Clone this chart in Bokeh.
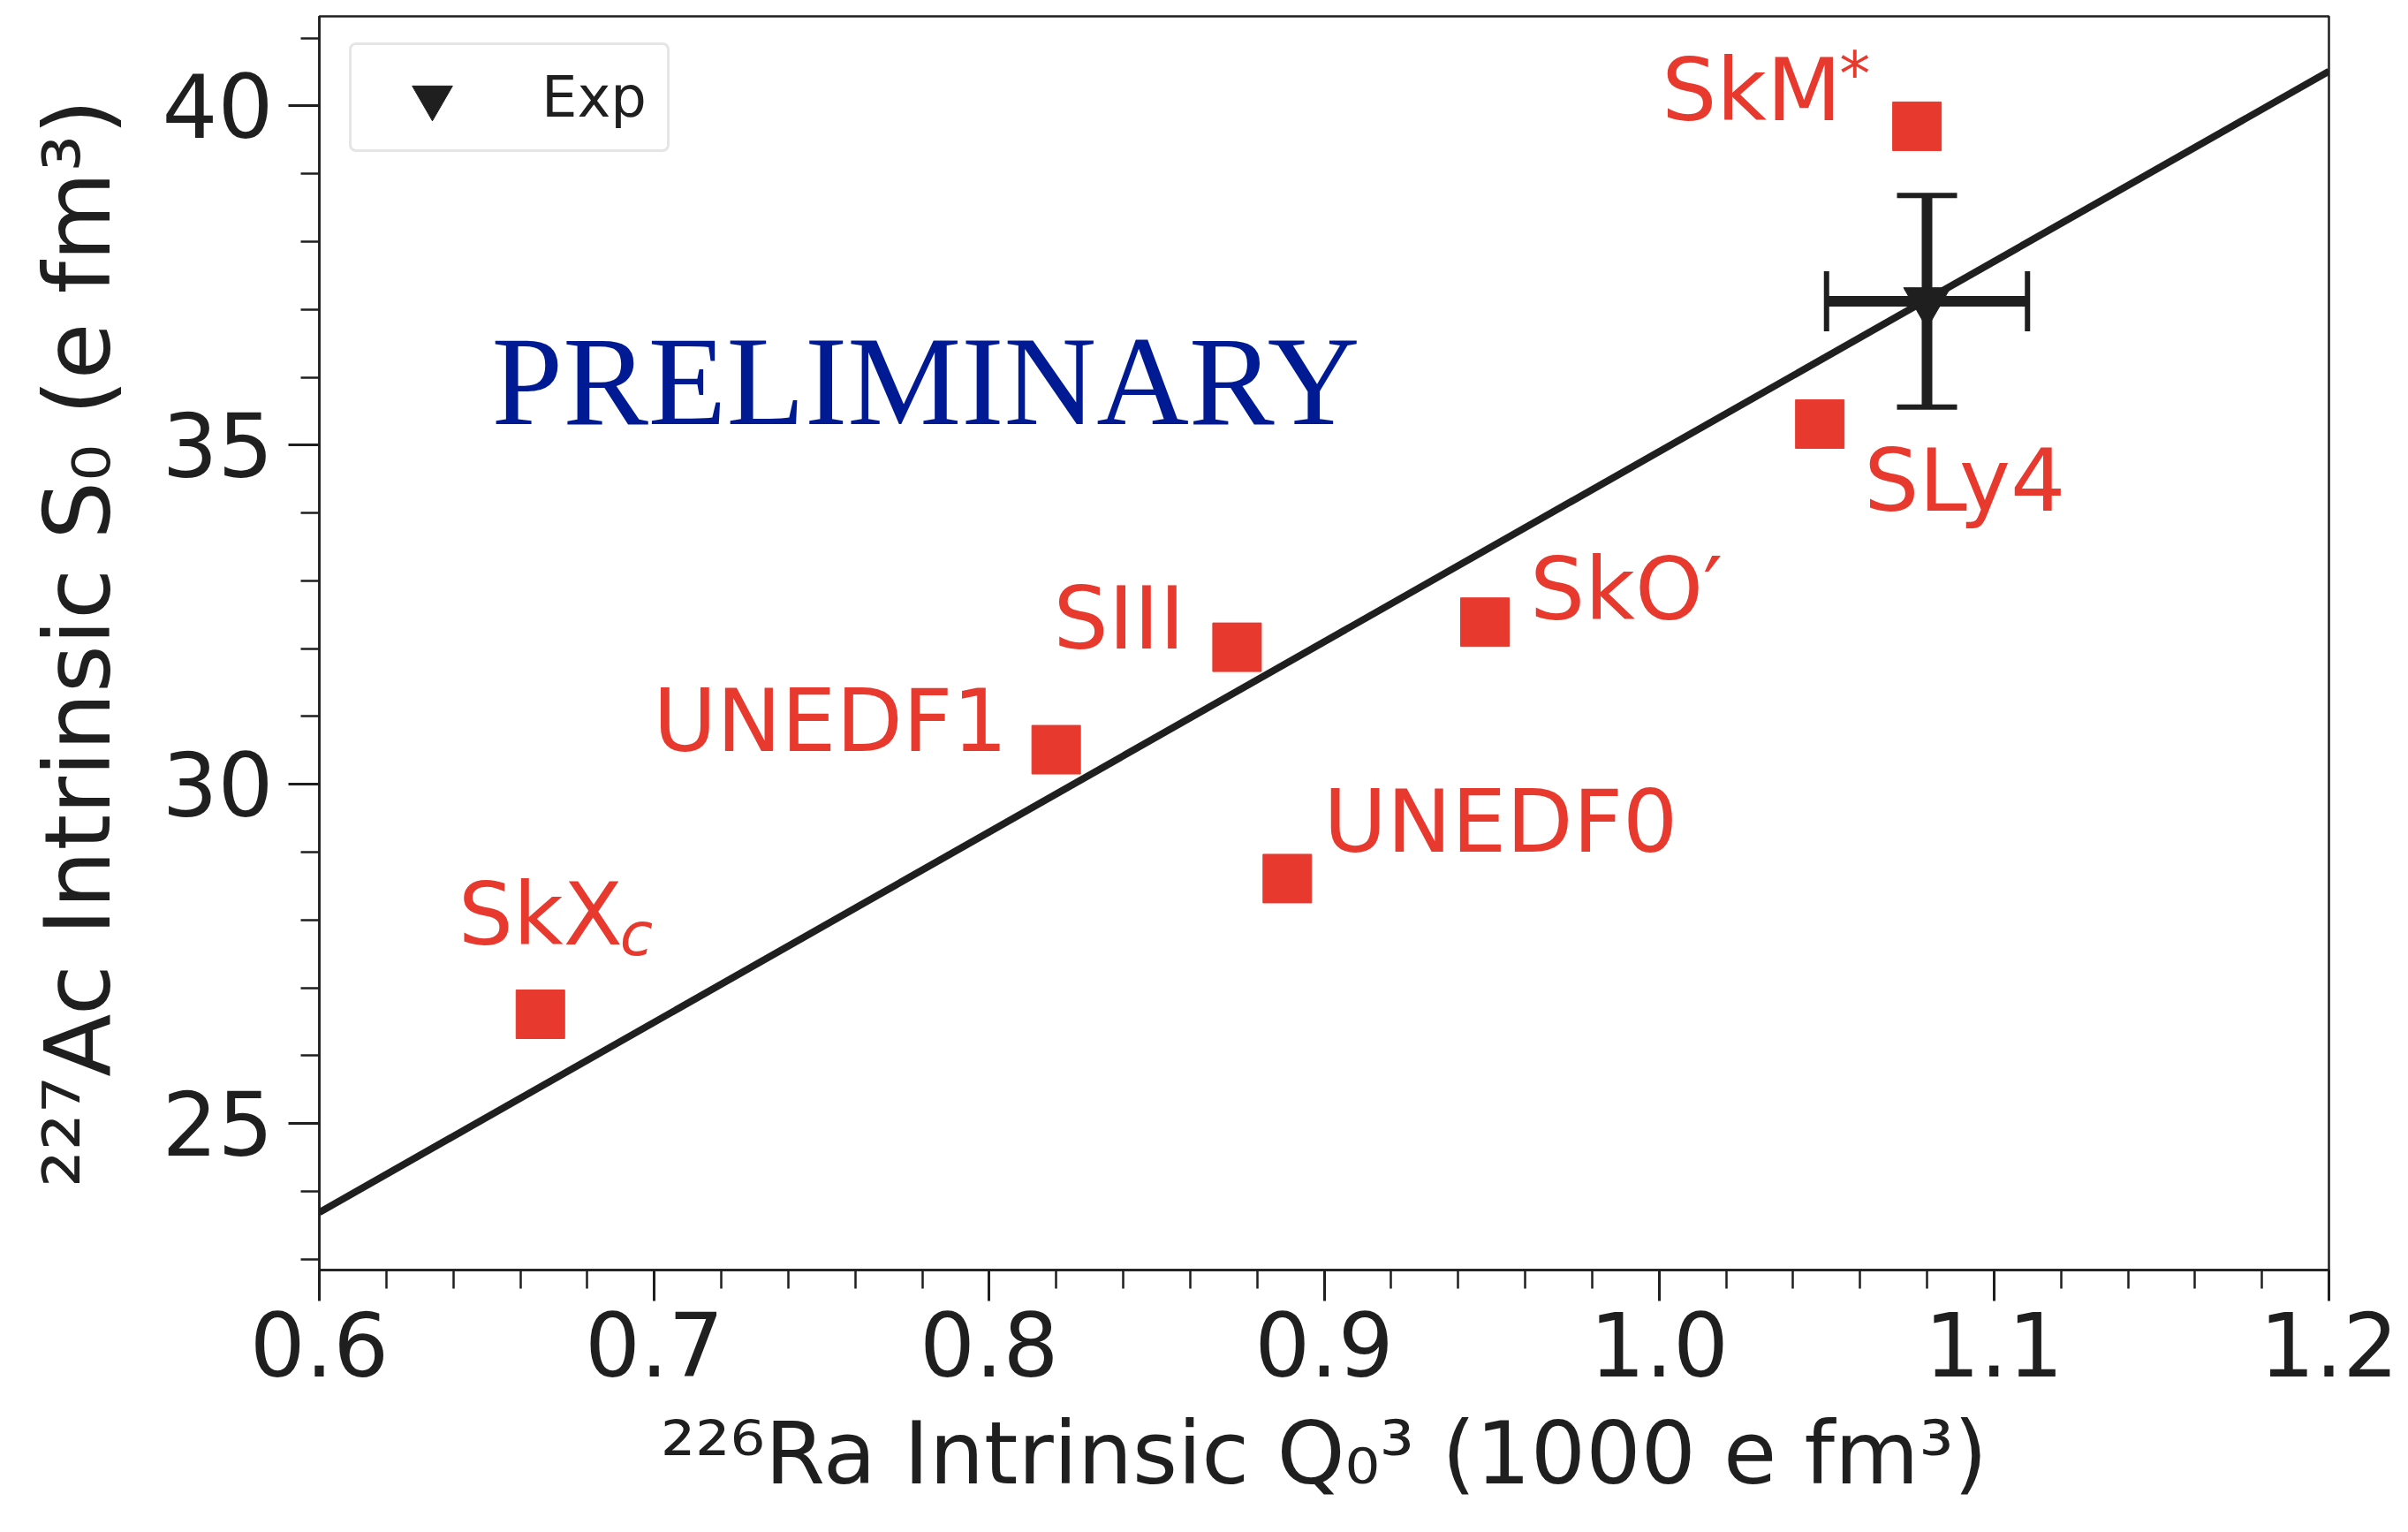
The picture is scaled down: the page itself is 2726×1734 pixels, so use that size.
from bokeh.plotting import figure
from bokeh.models import (Range1d, FixedTicker, NumeralTickFormatter, Whisker, Title,
                          ColumnDataSource, Legend, LegendItem, TeeHead)
from bokeh.core.properties import value
from bokeh.embed import file_html
from bokeh.resources import INLINE

# ---------------- data ----------------
models = ["SkXc", "UNEDF1", "SIII", "UNEDF0", "SkO′", "SLy4", "SkM*"]
model_labels = ["SkX", "UNEDF1", "SIII", "UNEDF0", "SkO′", "SLy4", "SkM"]
q3_ra226 = [0.666, 0.820, 0.874, 0.889, 0.948, 1.048, 1.077]
s0_ac227 = [26.61, 30.51, 32.02, 28.61, 32.39, 35.31, 39.70]

exp_q3 = [1.080]
exp_q3_err = [0.030]
exp_s0 = [37.12]
exp_s0_err = [1.56]

fit_q3 = [0.6, 1.2]
fit_s0 = [23.69, 40.51]

x_ticks = [0.6, 0.7, 0.8, 0.9, 1.0, 1.1, 1.2]
y_ticks = [25, 30, 35, 40]
x_minor = [round(0.6 + 0.02 * i, 2) for i in range(31)]
y_minor = list(range(23, 42))

X_LABEL = "²²⁶Ra Intrinsic Q₀³ (1000 e fm³)"
Y_LABEL = "²²⁷Ac Intrinsic S₀ (e fm³)"

# ---------------- styling / placement ----------------
RED = "#E8392F"
INK = "#1f1f1f"
FONT = "DejaVu Sans"
LIFT = -35  # baseline correction for 98px text (screen px)
# label offsets in screen px: (dx, dy, align)
placement = {
    "SkXc": (-93, -78, "left"),
    "UNEDF1": (-55, 2, "right"),
    "SIII": (-59, 2, "right"),
    "UNEDF0": (41, -29, "left"),
    "SkO′": (51, -2, "left"),
    "SLy4": (50, 99, "left"),
    "SkM*": (-289, -6, "left"),
}

p = figure(width=2726, height=1734, output_backend="svg", toolbar_location=None,
           x_range=Range1d(0.6, 1.2), y_range=Range1d(22.84, 41.32),
           min_border_left=361, min_border_right=90, min_border_top=18,
           min_border_bottom=297)
p.background_fill_color = "white"
p.border_fill_color = "white"
p.outline_line_color = INK
p.outline_line_width = 2.5
p.xgrid.grid_line_color = None
p.ygrid.grid_line_color = None

# fit line
p.line(fit_q3, fit_s0, line_width=8, line_color=INK)

# model points
msrc = ColumnDataSource(dict(x=q3_ra226, y=s0_ac227))
p.scatter(x="x", y="y", source=msrc, marker="square", size=55,
          fill_color=RED, line_color=RED)

# model labels
for align in ("left", "right"):
    idx = [i for i, m in enumerate(models) if placement[m][2] == align]
    src = ColumnDataSource(dict(
        x=[q3_ra226[i] for i in idx], y=[s0_ac227[i] for i in idx],
        text=[model_labels[i] for i in idx],
        dx=[placement[models[i]][0] for i in idx],
        dy=[placement[models[i]][1] + LIFT for i in idx]))
    p.text(x="x", y="y", text="text", source=src, x_offset="dx", y_offset="dy",
           text_align=align, text_baseline="alphabetic",
           text_font=value(FONT), text_font_size=value("98px"), text_color=RED)

# subscript c of SkX_c, superscript * of SkM*
i_skx = models.index("SkXc")
p.text(x=[q3_ra226[i_skx]], y=[s0_ac227[i_skx]], text=["c"], x_offset=90, y_offset=-65 - 26,
       text_align="left", text_baseline="alphabetic", text_font=value(FONT),
       text_font_style="italic", text_font_size=value("68px"), text_color=RED)
i_skm = models.index("SkM*")
p.text(x=[q3_ra226[i_skm]], y=[s0_ac227[i_skm]], text=["*"], x_offset=-88, y_offset=-33 - 26,
       text_align="left", text_baseline="alphabetic", text_font=value(FONT),
       text_font_size=value("70px"), text_color=RED)

# watermark
p.text(x=[0.6], y=[41.32], text=["PRELIMINARY"], x_offset=195, y_offset=412,
       text_align="left", text_baseline="alphabetic", text_font=value("Liberation Serif"),
       text_font_size=value("145px"), text_color="#001A94")

# experiment with error bars
esrc = ColumnDataSource(dict(
    x=exp_q3, y=exp_s0,
    xl=[a - b for a, b in zip(exp_q3, exp_q3_err)], xu=[a + b for a, b in zip(exp_q3, exp_q3_err)],
    yl=[a - b for a, b in zip(exp_s0, exp_s0_err)], yu=[a + b for a, b in zip(exp_s0, exp_s0_err)]))
wy = Whisker(source=esrc, base="x", lower="yl", upper="yu", dimension="height",
             line_color=INK, line_width=12,
             upper_head=TeeHead(size=68, line_width=6, line_color=INK),
             lower_head=TeeHead(size=68, line_width=6, line_color=INK))
wx = Whisker(source=esrc, base="y", lower="xl", upper="xu", dimension="width",
             line_color=INK, line_width=12,
             upper_head=TeeHead(size=68, line_width=6, line_color=INK),
             lower_head=TeeHead(size=68, line_width=6, line_color=INK))
p.add_layout(wy)
p.add_layout(wx)
exp_r = p.scatter(x="x", y="y", source=esrc, marker="inverted_triangle", size=53,
                  fill_color=INK, line_color=INK)

# legend
legend = Legend(items=[LegendItem(label="Exp", renderers=[exp_r])], location=(34, 1265),
                label_text_font=FONT, label_text_font_size="64px", label_text_color=INK,
                glyph_width=178, glyph_height=114, padding=2, label_standoff=35,
                label_width=140, border_line_color="#cccccc", border_line_width=3,
                background_fill_color="white", background_fill_alpha=0.8, margin=0)
try:
    legend.border_radius = 8
except Exception:
    pass
p.add_layout(legend)

# x-axis title as a title below the axis
p.add_layout(Title(text=X_LABEL, align="center", offset=-6, standoff=50,
                   text_font=FONT, text_font_size="98px", text_font_style="normal",
                   text_color=INK), "below")

# axes
p.xaxis.ticker = FixedTicker(ticks=x_ticks, minor_ticks=x_minor)
p.yaxis.ticker = FixedTicker(ticks=y_ticks, minor_ticks=y_minor)
p.xaxis.formatter = NumeralTickFormatter(format="0.0")
p.yaxis.formatter = NumeralTickFormatter(format="0")
p.yaxis.axis_label = Y_LABEL
for ax in (p.xaxis[0], p.yaxis[0]):
    ax.axis_line_color = INK
    ax.axis_line_width = 2.5
    ax.major_tick_line_color = INK
    ax.minor_tick_line_color = INK
    ax.major_tick_line_width = 3
    ax.minor_tick_line_width = 2.5
    ax.major_tick_out = 35
    ax.major_tick_in = 0
    ax.minor_tick_out = 21
    ax.minor_tick_in = 0
    ax.major_label_text_font = FONT
    ax.major_label_text_font_size = "99px"
    ax.major_label_text_font_style = "normal"
    ax.major_label_text_color = INK
    ax.axis_label_text_font = FONT
    ax.axis_label_text_font_size = "104px"
    ax.axis_label_text_font_style = "normal"
    ax.axis_label_text_color = INK
p.xaxis.major_label_standoff = 12
p.yaxis.major_label_standoff = 17
p.yaxis.axis_label_standoff = 32

open("out.html", "w").write(file_html(p, INLINE))
